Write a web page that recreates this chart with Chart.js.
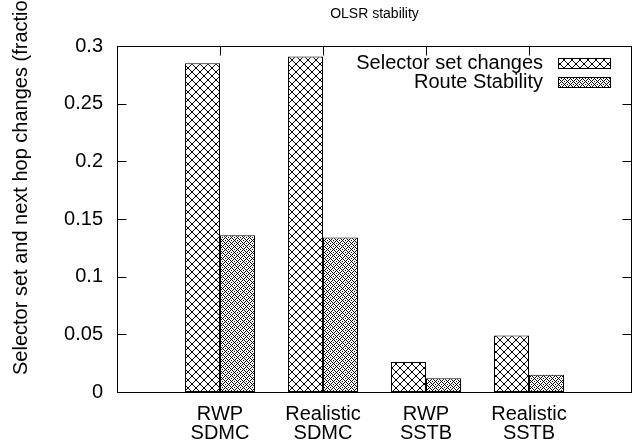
<!DOCTYPE html>
<html><head><meta charset="utf-8">
<script src="https://cdn.jsdelivr.net/npm/chart.js@4"></script>
<style>html,body{margin:0;padding:0;background:#fff;overflow:hidden}</style>
</head><body>
<div style="width:642px;height:443px"><canvas id="c" width="642" height="443"></canvas></div>
<script>
const categories = [['RWP','SDMC'],['Realistic','SDMC'],['RWP','SSTB'],['Realistic','SSTB']];
const seriesNames = ['Selector set changes','Route Stability'];
const selectorChanges = [0.285, 0.291, 0.026, 0.049];
const routeStability = [0.136, 0.134, 0.012, 0.015];
const yTicks = [0, 0.05, 0.1, 0.15, 0.2, 0.25, 0.3];
const yTickLabels = ['0','0.05','0.1','0.15','0.2','0.25','0.3'];
const chartTitle = 'OLSR stability';
const yTitle = 'Selector set and next hop changes (fraction)';

const FONT = '"Liberation Sans", Arial, Helvetica, sans-serif';

function makePattern(p, fn){
  const c = document.createElement('canvas'); c.width = p; c.height = p;
  const g = c.getContext('2d');
  g.fillStyle = '#fff'; g.fillRect(0,0,p,p);
  g.fillStyle = '#000';
  for (let y=0;y<p;y++) for (let x=0;x<p;x++) if (fn(x,y,p)) g.fillRect(x,y,1,1);
  return g.createPattern(c,'repeat');
}
const patCross = makePattern(8, (x,y,p)=> x===y || x+y===p-1);
const patDense = makePattern(6, (x,y,p)=> x===y || (x+y)%p===0 || (x===0&&y===3) || (x===3&&y===0));
const patterns = [patCross, patDense];

const labels = ['', ...categories, ''];
const pad = arr => [null, ...arr, null];

const frame = {
  id:'frame',
  afterDatasetsDraw(chart){
    const {ctx, chartArea:a, scales} = chart;
    ctx.save();
    ctx.strokeStyle = '#000'; ctx.lineWidth = 1;
    const L = Math.round(a.left)+0.5, R = Math.round(a.right)-0.5, T = Math.round(a.top)+0.5, B = Math.round(a.bottom)+0.5;
    ctx.strokeRect(L, T, R-L, B-T);
    const tl = 9;
    ctx.beginPath();
    yTicks.forEach(v=>{
      const y = Math.round(scales.y.getPixelForValue(v))+0.5;
      ctx.moveTo(L, y); ctx.lineTo(L+tl, y);
      ctx.moveTo(R, y); ctx.lineTo(R-tl, y);
    });
    categories.forEach((c,i)=>{
      const x = Math.round(scales.x.getPixelForValue(i+1))+0.5;
      ctx.moveTo(x, T); ctx.lineTo(x, T+tl);
      ctx.moveTo(x, B); ctx.lineTo(x, B-tl);
    });
    ctx.stroke();
    // legend
    ctx.font = '20px ' + FONT;
    ctx.fillStyle = '#000';
    ctx.textAlign = 'right'; ctx.textBaseline = 'middle';
    seriesNames.forEach((n,i)=>{
      const cy = 63 + i*19;
      ctx.fillText(n, 543, cy);
      ctx.fillStyle = patterns[i];
      ctx.fillRect(558, cy-5, 52, 10);
      ctx.strokeRect(558.5, cy-5+0.5, 52, 10);
      ctx.fillStyle = '#000';
    });
    // y title
    ctx.save();
    ctx.translate(21, 375);
    ctx.rotate(-Math.PI/2);
    ctx.textAlign = 'left'; ctx.textBaseline = 'middle';
    ctx.fillText(yTitle, 0, 0);
    ctx.restore();
    ctx.restore();
  }
};

new Chart(document.getElementById('c'), {
  type:'bar',
  data:{
    labels,
    datasets:[
      {label:seriesNames[0], data:pad(selectorChanges), backgroundColor:patCross, borderColor:'#000', borderWidth:1, borderSkipped:false},
      {label:seriesNames[1], data:pad(routeStability), backgroundColor:patDense, borderColor:'#000', borderWidth:1, borderSkipped:false}
    ]
  },
  options:{
    responsive:false, animation:false, devicePixelRatio:1,
    layout:{padding:{left:0,right:10,top:0,bottom:0}},
    datasets:{bar:{barPercentage:1.0, categoryPercentage:0.68}},
    plugins:{
      legend:{display:false}, tooltip:{enabled:false},
      title:{display:true, text:chartTitle, fullSize:false, color:'#000',
        font:{family:FONT, size:14, weight:'normal', lineHeight:1.2}, padding:{top:6,bottom:23.2}}
    },
    scales:{
      x:{type:'category', offset:false, grid:{display:false, drawTicks:false}, border:{display:false},
        ticks:{color:'#000', font:{family:FONT,size:20,lineHeight:0.95}, padding:13, maxRotation:0, autoSkip:false},
        afterFit(s){ s.height = 51; s.paddingLeft = 0; s.paddingRight = 0; }},
      y:{min:0, max:0.3, grid:{display:false, drawTicks:false}, border:{display:false},
        afterBuildTicks(s){ s.ticks = yTicks.map(v=>({value:v})); },
        ticks:{color:'#000', font:{family:FONT,size:20}, padding:14, callback:(v,i)=>yTickLabels[i]},
        afterFit(s){ s.width = 117; }}
    }
  },
  plugins:[frame]
});
</script>
</body></html>
